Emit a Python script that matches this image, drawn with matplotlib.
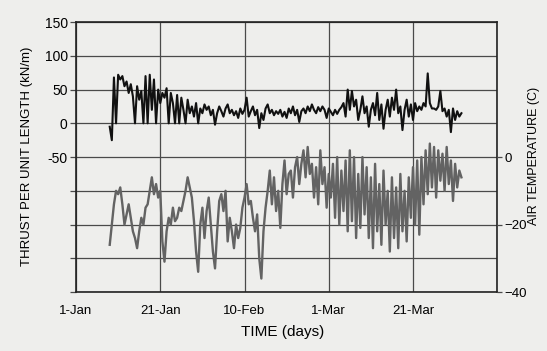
import matplotlib
matplotlib.use("Agg")
import matplotlib.pyplot as plt
import numpy as np

plt.rcParams['font.family'] = ['Liberation Sans', 'DejaVu Sans']

# days since 1-Jan, half-day readings
thrust_start = 8.0
thrust = [-5, -25, 68, 0, 72, 65, 70, 55, 62, 45, 58, 40, 0, 55, 35, 48, 0, 70, 0, 72,
          20, 65, 0, 50, 30, 45, 38, 52, 0, 45, 30, 0, 42, 0, 38, 20, 0, 35, 15, 25,
          10, 30, 0, 22, 15, 28, 20, 25, 12, 20, -2, 15, 25, 18, 10, 22, 28, 15, 20, 12,
          18, 8, 22, 14, 20, 38, 10, 18, 25, 12, 20, -7, 15, 5, 22, 28, 15, 20, 12, 18,
          14, 20, 10, 17, 8, 22, 15, 25, 12, 20, 2, 18, 22, 15, 25, 18, 28, 20, 15, 24,
          18, 25, 20, 8, 22, 17, 12, 20, 14, 20, 24, 30, 10, 50, 20, 48, 25, 35, 5, 20,
          40, 15, 25, -5, 20, 30, 12, 45, 5, 28, -8, 20, 35, 10, 38, 20, 50, 15, 25, -10,
          20, 35, 10, 28, 5, 30, 18, 25, 20, 30, 25, 74, 30, 22, 22, 20, 25, 48, 18, 22,
          10, 20, -13, 22, 5, 18, 10, 15]

temp_start = 8.0
air_temp = [-26, -20, -14, -10, -11, -9, -14, -20, -17, -14, -18, -22, -24, -27, -22, -18,
            -20, -15, -14, -10, -6, -11, -8, -12, -10, -25, -31, -22, -18, -20, -15, -19,
            -18, -15, -16, -13, -10, -6, -9, -12, -19, -28, -34, -20, -15, -24, -16, -12,
            -20, -28, -33, -22, -13, -11, -16, -10, -25, -18, -22, -27, -20, -24, -21, -15,
            -12, -8, -14, -13, -18, -22, -17, -30, -36, -22, -15, -10, -4, -14, -6, -16,
            -10, -21, -8, -1, -11, -5, -4, -12, -3, 0, -8, -2, 2, -6, 3, -5,
            -2, -12, -3, -14, 2, -8, -3, -15, -5, -12, -2, -18, 0, -20, -4, -16,
            -1, -22, 2, -19, 0, -24, -5, -21, 0, -17, -3, -24, -6, -27, -2, -22,
            -8, -26, -4, -20, -10, -28, -6, -24, -9, -27, -5, -22, -10, -25, -6, -18,
            -3, -20, -1, -23, 0, -14, 2, -11, 4, -9, 3, -12, 2, -7, 1, -10,
            3, -8, -1, -13, -2, -9, -4, -6]

date_ticks = [0, 20, 40, 60, 80]
date_labels = ['1-Jan', '21-Jan', '10-Feb', '1-Mar', '21-Mar']

thrust_days = thrust_start + 0.5 * np.arange(len(thrust))
temp_days = temp_start + 0.5 * np.arange(len(air_temp))

paper = '#eeeeec'
fig = plt.figure(figsize=(5.47, 3.51), dpi=100, facecolor=paper)
ax = fig.add_axes([0.139, 0.168, 0.770, 0.769], facecolor=paper)

ax.plot(thrust_days, thrust, color='#111111', linewidth=1.5, zorder=3)
ax.set_xlim(0, 100)
ax.set_ylim(-250, 150)
ax.set_yticks(np.arange(-250, 151, 50))
ax.set_yticklabels(['', '', '', '', '-50', '0', '50', '100', '150'])
ax.set_xticks(date_ticks + [100])
ax.set_xticklabels(date_labels + [''])
ax.grid(True, color='#4a4a4a', linewidth=0.9)
ax.tick_params(axis='x', length=0, pad=9, labelsize=9.5)
ax.tick_params(axis='y', length=4.5, width=0.9, color='#4a4a4a', pad=1.5, labelsize=10)
for s in ax.spines.values():
    s.set_linewidth(1.2)
    s.set_color('#222222')

# temperature on the right-hand scale
ax2 = ax.twinx()
ax2.plot(temp_days, air_temp, color='#636363', linewidth=1.7)
ax2.set_ylim(-40, 40)
ax2.set_yticks([-40, -20, 0])
ax2.tick_params(axis='y', length=3.5, width=0.9, color='#4a4a4a', pad=2, labelsize=9.5)
for s in ax2.spines.values():
    s.set_visible(False)

fig.text(0.050, 0.556, 'THRUST PER UNIT LENGTH (kN/m)', rotation=90, ha='center', va='center', fontsize=9.5)
fig.text(0.976, 0.556, 'AIR TEMPERATURE (C)', rotation=90, ha='center', va='center', fontsize=9)
fig.text(0.517, 0.054, 'TIME (days)', ha='center', va='center', fontsize=11)

plt.savefig('out.png', dpi=100, facecolor=paper)
